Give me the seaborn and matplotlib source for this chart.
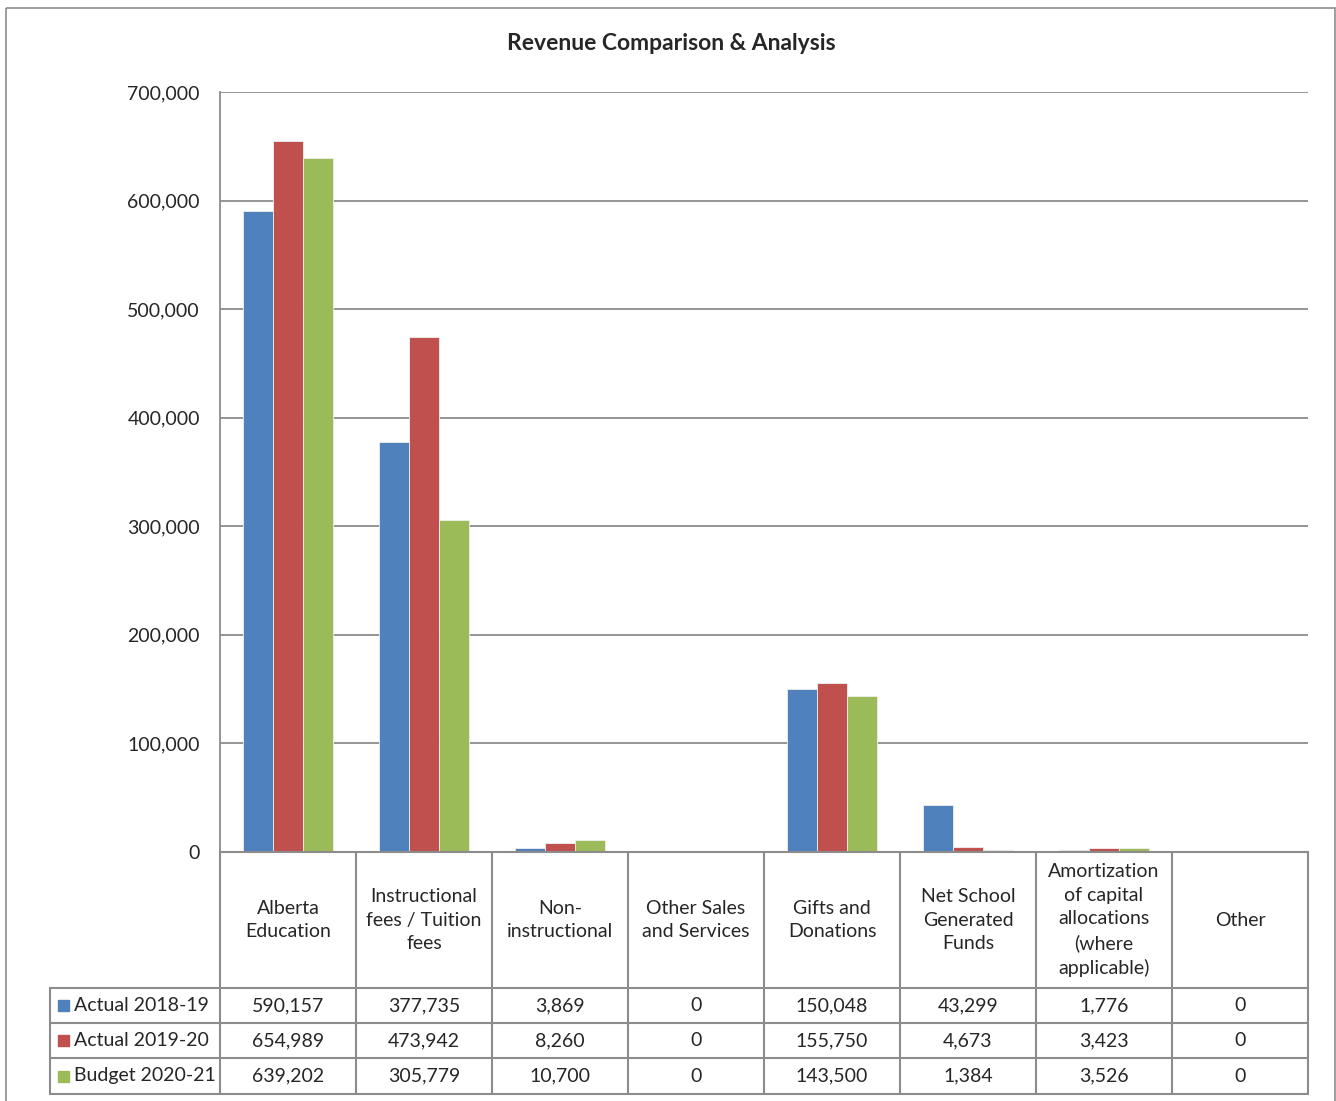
import matplotlib
matplotlib.use("Agg")
import matplotlib.pyplot as plt
import seaborn as sns
import pandas as pd
from matplotlib.patches import Rectangle

categories = ["Alberta\nEducation", "Instructional\nfees / Tuition\nfees", "Non-\ninstructional",
              "Other Sales\nand Services", "Gifts and\nDonations", "Net School\nGenerated\nFunds",
              "Amortization\nof capital\nallocations\n(where\napplicable)", "Other"]
series = ["Actual 2018-19", "Actual 2019-20", "Budget 2020-21"]
actual_2018 = [590157, 377735, 3869, 0, 150048, 43299, 1776, 0]
actual_2019 = [654989, 473942, 8260, 0, 155750, 4673, 3423, 0]
budget_2020 = [639202, 305779, 10700, 0, 143500, 1384, 3526, 0]
colors = ["#4F81BD", "#C0504D", "#9BBB59"]
yticks = [0, 100000, 200000, 300000, 400000, 500000, 600000, 700000]

values = [actual_2018, actual_2019, budget_2020]
rows = []
for s, vals in zip(series, values):
    for i, v in enumerate(vals):
        rows.append({"cat": i, "series": s, "value": v})
df = pd.DataFrame(rows)

sns.set_theme(style="white")
plt.rcParams['font.family'] = ['Lato', 'DejaVu Sans']

W, H = 1336, 1101
fig = plt.figure(figsize=(W / 100, H / 100), dpi=100)

def px_ax(x0, y0, x1, y1):
    return fig.add_axes([x0 / W, 1 - y1 / H, (x1 - x0) / W, (y1 - y0) / H])

# outer frame
frame = fig.add_axes([0, 0, 1, 1], zorder=-1)
frame.set_xlim(0, W); frame.set_ylim(H, 0); frame.axis("off")
frame.add_patch(Rectangle((6, 8), W - 6 - 1, H, fill=False, edgecolor="#8c8c8c", lw=1.2))

ax = px_ax(220, 92, 1308, 852)
sns.barplot(data=df, x="cat", y="value", hue="series", palette=colors, order=list(range(8)),
            hue_order=series, width=0.66, gap=0, ax=ax, legend=False,
            edgecolor="#f0f0f0", linewidth=0.6, saturation=1)
ax.set_xlim(-0.5, 7.5)
ax.set_ylim(0, 700000)
ax.set_yticks(yticks)
ax.set_yticklabels([f"{v:,}" for v in yticks], fontsize=14)
ax.tick_params(axis="y", length=0, pad=14.4)
ax.set_xticks([])
ax.set_xlabel(""); ax.set_ylabel("")
ax.yaxis.grid(True, color="#8c8c8c", lw=1.3)
ax.set_axisbelow(True)
for sp in ["top", "right", "bottom"]:
    ax.spines[sp].set_visible(False)
ax.spines["left"].set_color("#8c8c8c")
ax.spines["left"].set_linewidth(1.3)

fig.text(671 / W, 1 - 44 / H, "Revenue Comparison & Analysis", ha="center", va="center",
         fontsize=16.5, fontweight="bold")

# data table
tab = px_ax(40, 845, 1315, 1100)
tab.set_xlim(40, 1315); tab.set_ylim(1100, 845); tab.axis("off")
lc = "#8c8c8c"; lw = 1.5
col_w = 136
x_left = 220
row_y = [852, 988, 1023, 1058, 1094]
tab.plot([x_left, 1308], [852, 852], color=lc, lw=lw)
for y in row_y[1:]:
    tab.plot([50, 1308], [y, y], color=lc, lw=lw)
for k in range(9):
    x = x_left + k * col_w
    tab.plot([x, x], [852, 1094], color=lc, lw=lw)
tab.plot([50, 50], [988, 1094], color=lc, lw=lw)
for i, c in enumerate(categories):
    tab.text(x_left + (i + 0.5) * col_w, 920, c, ha="center", va="center",
             fontsize=14, linespacing=1.45)
for r, (s, vals, col) in enumerate(zip(series, values, colors)):
    yc = (row_y[r + 1] + row_y[r + 2]) / 2
    tab.add_patch(Rectangle((58, yc - 5.5), 11, 11, color=col))
    tab.text(74, yc, s, ha="left", va="center", fontsize=14)
    for i, v in enumerate(vals):
        tab.text(x_left + (i + 0.5) * col_w, yc, f"{v:,}", ha="center", va="center", fontsize=14)

fig.savefig("out.png", dpi=100)
